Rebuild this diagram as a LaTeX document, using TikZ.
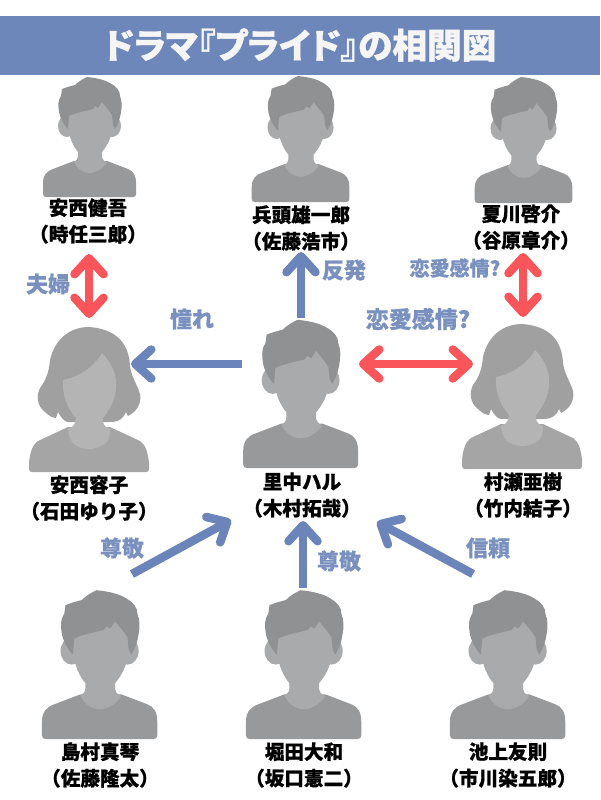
\documentclass[tikz,border=0pt]{standalone}
\usepackage{fontspec}
\setmainfont{Noto Sans CJK JP}[BoldFeatures={FakeBold=0.6}]
\newfontfamily\titlefont{Noto Sans CJK JP}[BoldFeatures={FakeBold=1.2},RawFeature=+palt]
\usetikzlibrary{arrows.meta,positioning}
\definecolor{bannerblue}{HTML}{6D87BA}
\definecolor{labelblue}{HTML}{7A91BF}
\definecolor{arrowblue}{HTML}{6B85BA}
\definecolor{arrowred}{HTML}{F9555A}
\definecolor{malehair}{HTML}{8F9193}
\definecolor{maleface}{HTML}{A8AAAB}
\definecolor{malebody}{HTML}{97999B}
\definecolor{femalehair}{HTML}{A0A0A0}
\definecolor{femaleface}{HTML}{B4B4B4}
\definecolor{femalebody}{HTML}{A5A5A5}
\tikzset{
    castname/.style={
                align=center,
                font=\fontsize{19.6}{26.5}\selectfont\bfseries,
                inner sep=0pt
            },
    relation/.style={
                text=labelblue,
                font=\fontsize{22}{26}\selectfont\bfseries,
                inner sep=0pt
            },
    bluearrow/.style={
                draw=arrowblue,
                line width=8.5pt,
                -{Straight Barb[round,length=16pt,width=29pt]}
            },
    redarrow/.style={
                draw=arrowred,
                line width=8.5pt,
                {Straight Barb[round,length=16pt,width=29pt]}-{Straight Barb[round,length=16pt,width=29pt]}
            },
    pics/maleicon/.style={code={
        % Body
        \fill[malebody] (-46,-3) -- (-46,-14) .. controls (-46,-22) and (-42,-26) .. (-36,-28)
            -- (-15,-36) -- (18,-36) -- (39,-28) .. controls (44,-26) and (47,-22) .. (47,-14)
            -- (47,-3) .. controls (47,-1) and (46,0) .. (44,0) -- (-43,0) .. controls (-45,0) and (-46,-1) .. (-46,-3) -- cycle;
        % Ears, face and neck
        \fill[maleface] (-22,-71) ellipse (9 and 11);
        \fill[maleface] (23,-71) ellipse (9 and 11);
        \fill[maleface] (-21,-95) -- (24,-95) -- (24,-72) .. controls (23,-58) and (17,-50) .. (13,-45)
            -- (13,-40) .. controls (14,-36) and (17,-35) .. (18,-34)
            .. controls (12,-27) and (6,-24) .. (1,-24) .. controls (-5,-24) and (-11,-27) .. (-15,-35)
            .. controls (-13,-36) and (-11,-38) .. (-11,-41) -- (-11,-45)
            .. controls (-15,-50) and (-20,-58) .. (-21,-72) -- cycle;
        % Hair
        \fill[malehair] (-2,-120) .. controls (8,-119) and (16,-117) .. (21,-114)
            .. controls (28,-110) and (31,-106) .. (31,-101) .. controls (33,-96) and (33,-90) .. (32,-85)
            .. controls (31,-78) and (29,-73) .. (26,-68) -- (24,-72) -- (23,-82)
            .. controls (20,-87) and (16,-91) .. (13,-95) -- (9,-89) -- (6,-91) -- (4,-88)
            .. controls (-4,-86) and (-14,-84) .. (-20,-81) -- (-21,-68)
            .. controls (-25,-72) and (-29,-79) .. (-30,-85) .. controls (-31,-92) and (-31,-97) .. (-28,-101)
            -- (-27,-108) .. controls (-22,-110) and (-18,-111) .. (-14,-112) .. controls (-10,-116) and (-6,-118) .. (-2,-120) -- cycle;
    }},
    pics/femaleicon/.style={code={
        % Body
        \fill[femalebody] (-60,-3) -- (-60,-9) .. controls (-59,-20) and (-56,-28) .. (-51,-31)
            -- (-21,-45) -- (21,-45) -- (51,-31) .. controls (56,-28) and (59,-20) .. (60,-9)
            -- (60,-3) .. controls (60,-1) and (59,0) .. (57,0) -- (-57,0) .. controls (-59,0) and (-60,-1) .. (-60,-3) -- cycle;
        % Hair
        \fill[femalehair] (0,-145) .. controls (-18,-145) and (-34,-134) .. (-39,-112)
            .. controls (-40,-100) and (-43,-92) .. (-49,-84) .. controls (-53,-76) and (-52,-66) .. (-44,-60)
            .. controls (-40,-56) and (-36,-54) .. (-33,-54) -- (-31,-60) .. controls (-28,-54) and (-24,-50) .. (-21,-50)
            -- (21,-50) .. controls (30,-50) and (35,-54) .. (37,-60) -- (39,-56)
            .. controls (47,-60) and (53,-68) .. (51,-78) .. controls (48,-88) and (42,-96) .. (41,-106)
            .. controls (40,-128) and (28,-143) .. (0,-145) -- cycle;
        % Face and neck
        \fill[femaleface] (-26,-92) .. controls (-10,-95) and (5,-105) .. (13,-119)
            .. controls (20,-112) and (26,-102) .. (27,-91) .. controls (28,-78) and (24,-66) .. (14,-54)
            -- (14,-50) .. controls (15,-46) and (18,-44) .. (21,-43) .. controls (21,-36) and (20,-32) .. (17,-29)
            .. controls (12,-25) and (6,-23) .. (0,-23) .. controls (-6,-23) and (-12,-25) .. (-16,-29)
            .. controls (-19,-33) and (-21,-38) .. (-21,-43) .. controls (-18,-44) and (-14,-47) .. (-14,-50)
            -- (-13,-54) .. controls (-22,-64) and (-27,-78) .. (-26,-92) -- cycle;
    }},
}
\begin{document}
\begin{tikzpicture}[x=1pt,y=-1pt]
  \useasboundingbox (0,0) rectangle (600,800);
  % Title
  \fill[bannerblue] (0,16) rectangle (600,75);
  \node[inner sep=0pt,text=white!96!black,font=\titlefont\fontsize{34.7}{38}\selectfont\bfseries] (title) at (300,45) {ドラマ『プライド』の相関図};
  % Icons
  \pic (kengoicon) at (89,197) {maleicon};
  \pic (hyodoicon) at (300,202) [scale=1.05] {maleicon};
  \pic (natsukawaicon) at (523,203) [scale=1.05] {maleicon};
  \pic (keikoicon) at (89,472) {femaleicon};
  \pic (haruicon) at (300,468) [scale=1.235] {maleicon};
  \pic (akiicon) at (522,469) {femaleicon};
  \pic (shimamuraicon) at (99,739) [scale=1.24] {maleicon};
  \pic (horitaicon) at (303,739) [scale=1.24] {maleicon};
  \pic (ikegamiicon) at (507,739) [scale=1.24] {maleicon};
  % Names
  \node[castname] (kengo) at (88,221) {安西健吾\\（時任三郎）};
  \node[castname] (hyodo) at (301,228) {兵頭雄一郎\\（佐藤浩市）};
  \node[castname] (natsukawa) at (521,227) {夏川啓介\\（谷原章介）};
  \node[castname] (keiko) at (89,498) {安西容子\\（石田ゆり子）};
  \node[castname] (haru) at (302,495) {里中ハル\\（木村拓哉）};
  \node[castname] (aki) at (523,495) {村瀬亜樹\\（竹内結子）};
  \node[castname] (shimamura) at (100,765) {島村真琴\\（佐藤隆太）};
  \node[castname] (horita) at (304,765) {堀田大和\\（坂口憲二）};
  \node[castname] (ikegami) at (508,765) {池上友則\\（市川染五郎）};
  % Arrow ends
  \coordinate (kengoend) at (89,254);
  \coordinate (keikotop) at (89,318);
  \coordinate (hyodoend) at (301,252);
  \coordinate (harutop) at (301,318);
  \coordinate (natsukawaend) at (523,253);
  \coordinate (akitop) at (523,317);
  \coordinate (keikoside) at (131,364);
  \coordinate (haruwest) at (242,364);
  \coordinate (harueast) at (359,364);
  \coordinate (akiside) at (473,364);
  \coordinate (shimamuratop) at (132,574);
  \coordinate (haruleft) at (231,520);
  \coordinate (horitatop) at (303,588);
  \coordinate (harubottom) at (303,521);
  \coordinate (ikegamitop) at (473,574);
  \coordinate (haruright) at (377,522);
  % Relations
  \draw[redarrow] (kengoend) -- (keikotop);
  \draw[bluearrow] (harutop) -- (hyodoend);
  \draw[redarrow] (natsukawaend) -- (akitop);
  \draw[bluearrow] (haruwest) -- (keikoside);
  \draw[redarrow] (harueast) -- (akiside);
  \draw[bluearrow] (shimamuratop) -- (haruleft);
  \draw[bluearrow] (horitatop) -- (harubottom);
  \draw[bluearrow] (ikegamitop) -- (haruright);
  % Labels
  \node[relation] (fuufu) at (48,284) {夫婦};
  \node[relation] (akogare) at (192,319) {憧れ};
  \node[relation] (hanpatsu) at (344,270) {反発};
  \node[relation,font=\fontsize{20}{24}\selectfont\bfseries] (renaitop) at (455,268) {恋愛感情?};
  \node[relation,font=\fontsize{23}{26}\selectfont\bfseries] (renaimid) at (418,319) {恋愛感情?};
  \node[relation] (sonkeileft) at (122,548) {尊敬};
  \node[relation] (sonkeimid) at (339,561) {尊敬};
  \node[relation] (shinrai) at (488,548) {信頼};
\end{tikzpicture}
\end{document}
